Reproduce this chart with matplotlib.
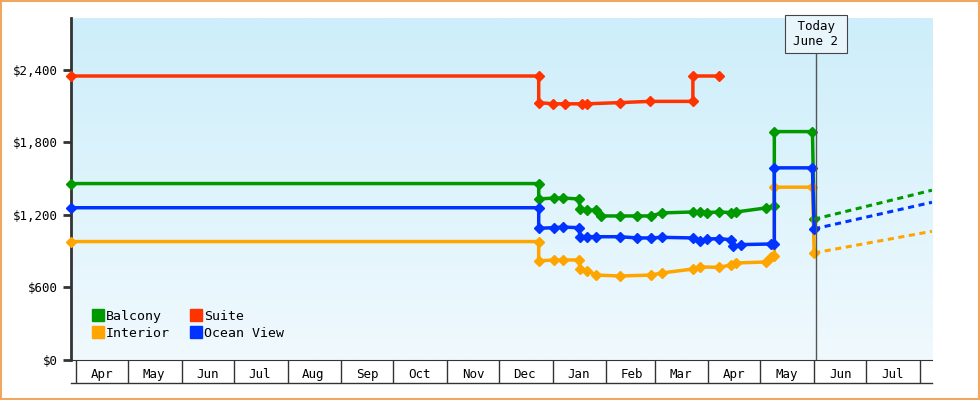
import matplotlib
matplotlib.use("Agg")
import matplotlib.pyplot as plt
import matplotlib.dates as mdates
import numpy as np
from datetime import datetime

plt.rcParams['font.family'] = ['DejaVu Sans Mono']

def D(s):
    return datetime.strptime(s, "%Y-%m-%d")

suite_dates = ["2024-03-29","2024-12-24","2024-12-24","2025-01-01","2025-01-08","2025-01-18","2025-01-21","2025-02-09","2025-02-26","2025-03-23","2025-03-23","2025-04-07"]
suite_vals = [2350,2350,2130,2120,2120,2120,2120,2130,2140,2140,2350,2350]

balcony_dates = ["2024-03-29","2024-12-24","2024-12-24","2025-01-02","2025-01-07","2025-01-16","2025-01-17","2025-01-21","2025-01-26","2025-01-29","2025-02-09","2025-02-19","2025-02-27","2025-03-05","2025-03-23","2025-03-27","2025-03-31","2025-04-07","2025-04-14","2025-04-17","2025-05-04","2025-05-09","2025-05-09","2025-05-31","2025-06-01"]
balcony_vals = [1460,1460,1333,1340,1340,1333,1250,1240,1240,1192,1192,1192,1192,1217,1225,1225,1220,1225,1220,1225,1258,1275,1890,1890,1165]

ocean_dates = ["2024-03-29","2024-12-24","2024-12-24","2025-01-02","2025-01-07","2025-01-16","2025-01-17","2025-01-21","2025-01-26","2025-02-09","2025-02-19","2025-02-27","2025-03-05","2025-03-23","2025-03-27","2025-03-31","2025-04-07","2025-04-14","2025-04-15","2025-04-20","2025-05-07","2025-05-09","2025-05-09","2025-05-31","2025-06-01"]
ocean_vals = [1260,1260,1090,1095,1100,1095,1020,1020,1020,1020,1010,1010,1015,1010,985,1000,1005,995,940,955,960,960,1590,1590,1085]

interior_dates = ["2024-03-29","2024-12-24","2024-12-24","2025-01-02","2025-01-07","2025-01-16","2025-01-17","2025-01-21","2025-01-26","2025-02-09","2025-02-27","2025-03-05","2025-03-23","2025-03-27","2025-04-07","2025-04-14","2025-04-17","2025-05-04","2025-05-07","2025-05-09","2025-05-09","2025-05-31","2025-06-01"]
interior_vals = [980,980,820,828,828,828,753,740,703,695,703,720,753,770,767,786,803,811,853,860,1430,1430,886]

forecast_dates = ["2025-06-01","2025-08-08"]
balcony_fc = [1165,1405]
ocean_fc = [1085,1305]
interior_fc = [886,1065]

yticks = [0,600,1200,1800,2400]
today = "2025-06-02"

colors = {"Balcony":"#009900","Suite":"#ff3300","Interior":"#ffa500","Ocean View":"#0033ff"}

fig = plt.figure(figsize=(9.8,4), dpi=100)
fig.patch.set_facecolor("white")
fig.add_artist(plt.Rectangle((0.001,0.002),0.998,0.996,transform=fig.transFigure,fill=False,edgecolor="#f0a860",lw=1.5))
ax = fig.add_axes([0.0724,0.1,0.951-0.0724,0.855])
xmin, xmax = D("2024-03-29"), D("2025-08-08")
ax.set_xlim(xmin, xmax)

grad = np.linspace(0,1,256).reshape(-1,1)
from matplotlib.colors import LinearSegmentedColormap
cm = LinearSegmentedColormap.from_list("bg", ["#cdeefa","#f0f9fe"])
ax.imshow(grad, aspect="auto", cmap=cm, origin="upper",
          extent=[mdates.date2num(xmin), mdates.date2num(xmax), 0, 2830], zorder=0)
ax.set_ylim(0, 2830)

series = [("Balcony",balcony_dates,balcony_vals),("Suite",suite_dates,suite_vals),
          ("Interior",interior_dates,interior_vals),("Ocean View",ocean_dates,ocean_vals)]
for name, ds, vs in series:
    ax.plot([D(d) for d in ds], vs, color=colors[name], lw=2.5, marker="D", ms=5, zorder=3, clip_on=False)
for name, vs in [("Balcony",balcony_fc),("Ocean View",ocean_fc),("Interior",interior_fc)]:
    ax.plot([D(d) for d in forecast_dates], vs, color=colors[name], lw=2.2, ls=(0,(2,1.5)), zorder=3)

from matplotlib.lines import Line2D
handles = [Line2D([],[],ls="",marker="s",ms=9,color=colors[n]) for n in ["Balcony","Interior","Suite","Ocean View"]]
ax.legend(handles, ["Balcony","Interior","Suite","Ocean View"], ncol=2, loc="lower left",
          bbox_to_anchor=(0.01,0.025), frameon=False, handletextpad=0.1, columnspacing=1.5,
          handlelength=1, fontsize=9.5, labelspacing=0.3)

td = D(today)
ax.axvline(td, color="#555555", lw=1, zorder=4)
ax.text(td, 2700, " Today \nJune 2", ha="center", va="center", fontsize=9, zorder=5,
        bbox=dict(boxstyle="square,pad=0.4", fc="#e8f6fc", ec="#444444", lw=0.8))

ax.set_yticks(yticks)
ax.set_yticklabels([f"${v:,}" for v in yticks], fontsize=9)
for s in ["top","right"]:
    ax.spines[s].set_visible(False)
ax.spines["left"].set_linewidth(2)
ax.spines["left"].set_color("#333333")
ax.spines["bottom"].set_color("#333333")
ax.tick_params(axis="y", length=6, width=2, color="#333333")

ax.xaxis.set_major_locator(mdates.MonthLocator(bymonthday=1))
ax.xaxis.set_major_formatter(plt.NullFormatter())
ax.xaxis.set_minor_locator(mdates.MonthLocator(bymonthday=16))
ax.xaxis.set_minor_formatter(mdates.DateFormatter("%b"))
ax.tick_params(axis="x", which="major", length=16.5, width=1, color="#333333", direction="out")
ax.tick_params(axis="x", which="minor", length=0, pad=6, labelsize=9)
ax.plot([0,1],[-0.066,-0.066], transform=ax.transAxes, color="#333333", lw=1, clip_on=False)

fig.savefig("out.png", dpi=100)
